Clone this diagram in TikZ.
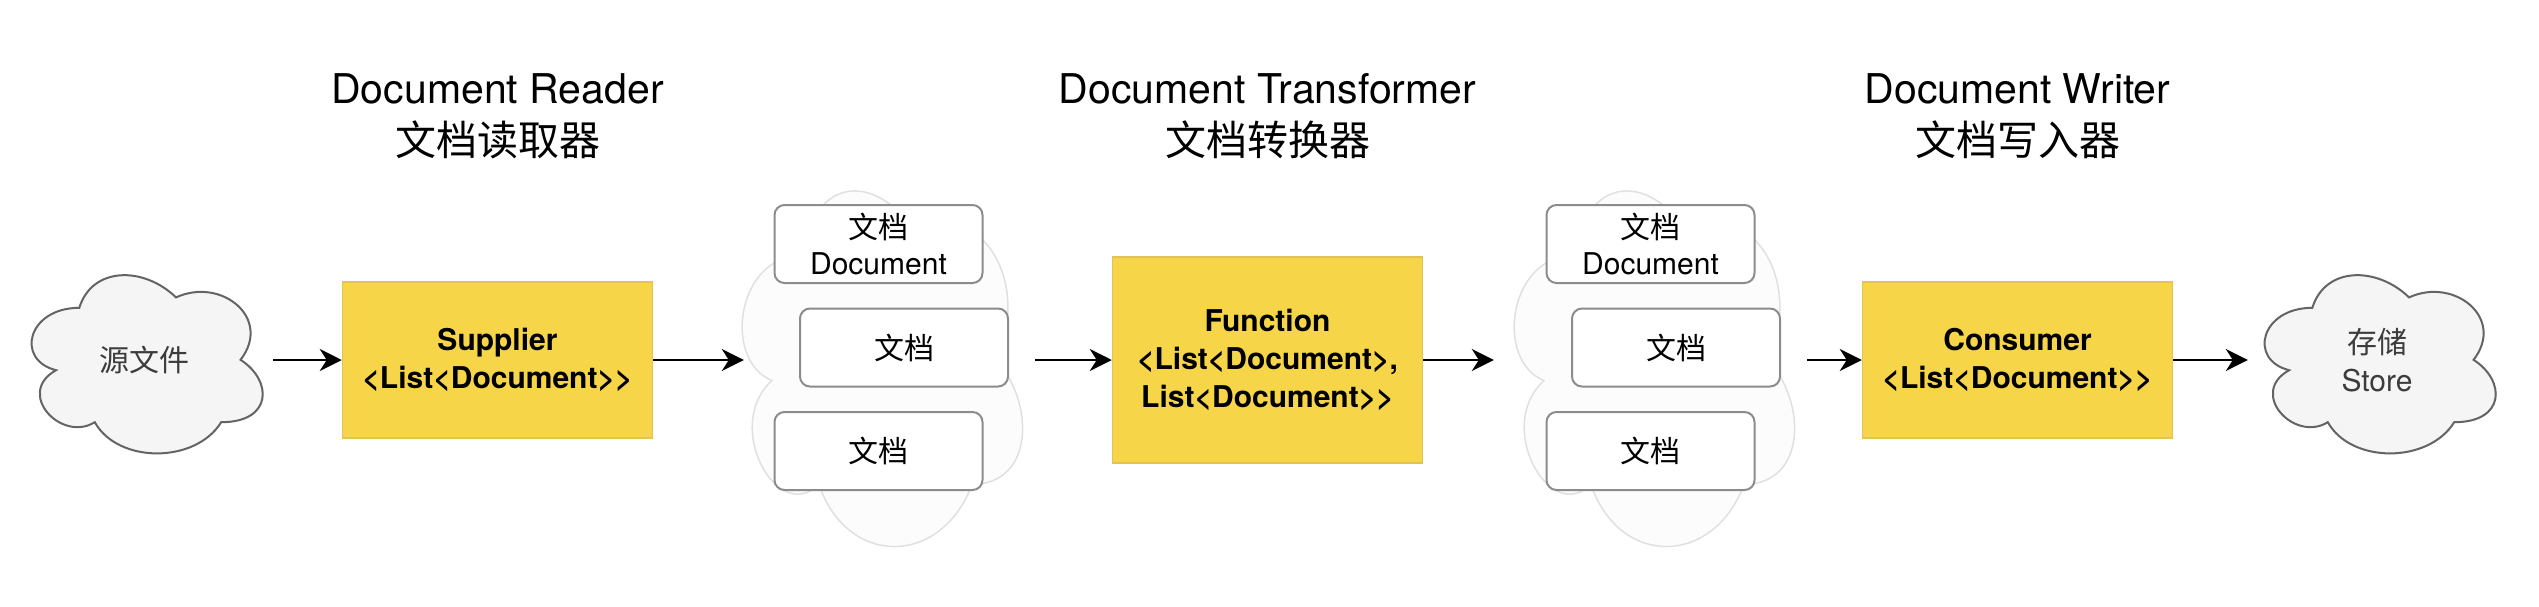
\documentclass[tikz,border=0pt]{standalone}
\usepackage{fontspec}
\setmainfont{TeX Gyre Heros}
\newfontfamily\cjk{Noto Sans CJK SC}
\usetikzlibrary{arrows.meta,backgrounds}

\definecolor{stageyellow}{RGB}{246,214,72}
\definecolor{stageborder}{RGB}{226,194,84}
\definecolor{cloudfill}{RGB}{245,245,245}
\definecolor{cloudline}{RGB}{100,100,100}
\definecolor{cloudtext}{RGB}{60,60,60}
\definecolor{faintfill}{RGB}{252,252,252}
\definecolor{faintline}{RGB}{224,224,224}
\definecolor{docline}{RGB}{140,140,140}

% cloud outline inside the box of a node: name, width, height, style
\newcommand{\cloudoutline}[4]{%
  \draw[#4, shift={(#1.north west)}, x=#2pt, y=-#3pt]
    (0.25,0.25) .. controls (0.05,0.25) and (0,0.5) .. (0.16,0.55)
    .. controls (0,0.66) and (0.18,0.9) .. (0.31,0.8)
    .. controls (0.4,1) and (0.7,1) .. (0.8,0.8)
    .. controls (1,0.8) and (1,0.6) .. (0.875,0.5)
    .. controls (1,0.3) and (0.8,0.1) .. (0.625,0.2)
    .. controls (0.5,0.05) and (0.3,0.05) .. (0.25,0.25) -- cycle;}

\begin{document}
\begin{tikzpicture}[x=1pt, y=-1pt, node distance=350pt,
  flow/.style={line width=2.5pt, -{Stealth[length=22pt, width=22pt, inset=7pt]}},
  stage/.style={draw=stageborder, line width=1.5pt, fill=stageyellow, minimum width=310pt, align=center, font=\fontsize{30}{38}\selectfont\bfseries},
  docbox/.style={draw=docline, line width=2pt, fill=white, rounded corners=10pt, minimum width=208pt, minimum height=78pt, align=center, font=\fontsize{30}{36}\selectfont},
  heading/.style={align=center, font=\fontsize{41}{52}\selectfont},
  cloudnode/.style 2 args={minimum width=#1pt, minimum height=#2pt, inner sep=0pt, align=center, font=\fontsize{30}{38}\selectfont}]
\useasboundingbox (0,0) rectangle (2539,606);

\node[cloudnode={258}{208}, text=cloudtext] (src) at (144,360) {\cjk 源文件};
\node[stage, minimum height=156pt] (supplier) [right of=src, node distance=353.5pt] {Supplier\\<List<Document>{}>};
\node[cloudnode={313}{415}] (grp1) [right of=supplier, node distance=381pt] {};
\node[stage, minimum height=206pt] (function) [right of=grp1, node distance=389pt] {Function\\<List<Document>,\\List<Document>{}>};
\node[cloudnode={313}{415}] (grp2) [right of=function, node distance=383pt] {};
\node[stage, minimum height=156pt] (consumer) [right of=grp2, node distance=367pt] {Consumer\\<List<Document>{}>};
\node[cloudnode={258}{208}, text=cloudtext] (store) [right of=consumer, node distance=359.5pt] {{\cjk 存储}\\Store};

% documents between the stages
\node[docbox] (docA1) [above of=grp1, node distance=116pt] {{\cjk 文档}\\Document};
\node[docbox] (docB1) [below of=docA1, node distance=103.5pt, xshift=25.5pt] {\cjk 文档};
\node[docbox] (docC1) [below of=docA1, node distance=207pt] {\cjk 文档};
\node[docbox] (docA2) [above of=grp2, node distance=116pt] {{\cjk 文档}\\Document};
\node[docbox] (docB2) [below of=docA2, node distance=103.5pt, xshift=25.5pt] {\cjk 文档};
\node[docbox] (docC2) [below of=docA2, node distance=207pt] {\cjk 文档};

\node[heading] (readerT) [above of=supplier, node distance=244pt] {Document Reader\\{\cjk 文档读取器}};
\node[heading] (transT) [above of=function, node distance=244pt] {Document Transformer\\{\cjk 文档转换器}};
\node[heading] (writerT) [above of=consumer, node distance=244pt] {Document Writer\\{\cjk 文档写入器}};

\begin{scope}[on background layer]
\cloudoutline{src}{258}{208}{fill=cloudfill, draw=cloudline, line width=2pt}
\cloudoutline{store}{258}{208}{fill=cloudfill, draw=cloudline, line width=2pt}
\cloudoutline{grp1}{313}{415}{fill=faintfill, draw=faintline, line width=1.5pt}
\cloudoutline{grp2}{313}{415}{fill=faintfill, draw=faintline, line width=1.5pt}
\end{scope}

\draw[flow] (src) -- (supplier);
\draw[flow] (supplier) -- ([xshift=22pt]grp1.west);
\draw[flow] (grp1) -- (function);
\draw[flow] (function) -- (grp2);
\draw[flow] (grp2) -- (consumer);
\draw[flow] (consumer) -- (store);
\end{tikzpicture}
\end{document}
